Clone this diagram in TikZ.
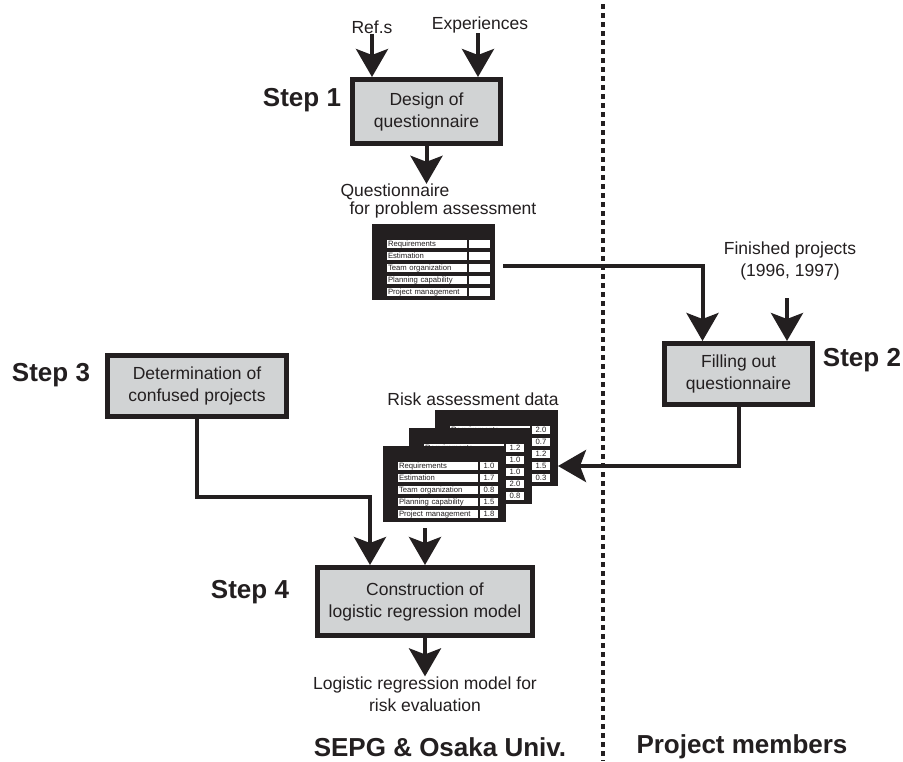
\documentclass[tikz,border=0pt]{standalone}
\usepackage{fontspec}
\setmainfont{Liberation Sans}
\usetikzlibrary{positioning,arrows.meta,calc}

\definecolor{ink}{HTML}{231F20}
\definecolor{boxgray}{HTML}{D1D3D4}

% row titles of the assessment sheets
\newcommand{\rowname}[1]{\ifcase#1\or Requirements\or Estimation\or Team organization\or Planning capability\or Project management\fi}

% one sheet: name, top left corner, width of the value column, values,
% number of title rows left visible (the rest lie under the sheet in front)
\newcommand{\datacard}[5]{%
  \node[card] (#1) at (#2) {};
  \foreach \val [count=\row] in {#4} {
    \coordinate (#1-p\row) at ($(#1.north west)+(15,12*\row+4)$);
    \ifnum\row>#5\else
      \node[cell,text width=78pt,align=left] at (#1-p\row) {\rowname{\row}};
    \fi
    \node[cell,minimum width=#3] (#1-v\row) at ($(#1-p\row)+(82,0)$) {\val};
  }
}

\begin{document}
\begin{tikzpicture}[x=1pt,y=-1pt,
    txt/.style={font=\fontsize{17.5}{22}\selectfont,text=ink,align=center,inner sep=0},
    stage/.style={txt,draw=ink,line width=5pt,fill=boxgray},
    steplabel/.style={font=\fontsize{26}{30}\selectfont\bfseries,text=ink,inner sep=0},
    arr/.style={draw=ink,line width=4pt,-{Stealth[length=28pt,width=32pt,inset=6pt]}},
    divider/.style={draw=ink,line width=4pt,dash pattern=on 5pt off 4pt},
    card/.style={fill=ink,minimum width=123pt,minimum height=76pt,inner sep=0,outer sep=0,anchor=north west},
    cell/.style={fill=white,font=\fontsize{7.7}{8}\selectfont,text=ink,inner xsep=1pt,inner ysep=0,
        minimum height=8pt,text height=5.6pt,text depth=1.6pt,outer sep=0,anchor=north west}
]
\fill[white] (0,0) rectangle (903,761);
\useasboundingbox (0,0) rectangle (903,761);

% column divider
\draw[divider] (603,4) -- (603,761);

% steps
\node[stage,minimum width=148pt,minimum height=64pt] (s1) at (426.5,111.5) {Design of\\questionnaire};
\node[stage,minimum width=148pt,minimum height=61pt] (s2) at (738.5,374) {Filling out\\questionnaire};
\node[stage,minimum width=179pt,minimum height=61pt] (s3) at (197,386) {Determination of\\confused projects};
\node[stage,minimum width=215pt,minimum height=68pt] (s4) at (425,601.5) {Construction of\\logistic regression model};

\node[steplabel] (st1) at (302,100) {Step 1};
\node[steplabel] (st2) at (862,360) {Step 2};
\node[steplabel] (st3) at (51,375) {Step 3};
\node[steplabel] (st4) at (250,592) {Step 4};

% inputs of step 1
\node[txt] (refs) at (372,27) {Ref.s};
\node[txt] (exp) at (480,25) {Experiences};
\draw[arr] (refs.south) -- (refs.south |- s1.north);
\draw[arr] ([xshift=-2pt]exp.south) -- ([xshift=-2pt]exp.south |- s1.north);

% questionnaire
\node[txt] (q1) at (395,192) {Questionnaire};
\node[txt] (q2) at (443,210) {for problem assessment};
\draw[arr] (s1.south) -- (s1.south |- q1.north);
\datacard{qcard}{372,224}{21pt}{~,~,~,~,~}{5}
\draw[arr] ($(qcard.east)+(8,4)$) -| ([xshift=-36pt]s2.north);

% finished projects
\node[txt] (fin) at (790,261) {Finished projects\\(1996, 1997)};
\draw[arr] ([xshift=-3pt]fin.south) ++(0,18) coordinate (f0) -- (f0 |- s2.north);

% risk assessment data
\node[txt] (rad) at (473,399) {Risk assessment data};
\datacard{c3}{435,410}{18pt}{2.0,0.7,1.2,1.5,0.3}{1}
\datacard{c2}{409,428}{18pt}{1.2,1.0,1.0,2.0,0.8}{1}
\datacard{c1}{383,446}{18pt}{1.0,1.7,0.8,1.5,1.8}{5}
\draw[arr] (s2.south) |- ([yshift=-18pt]c3.east);

% into step 4
\draw[arr] (s3.south) -- ++(0,78) -| ([xshift=-55pt]s4.north);
\draw[arr] (c1.south -| s4.north) ++(0,6) coordinate (c0) -- (c0 |- s4.north);

% result
\node[txt] (res) at (425,694) {Logistic regression model for\\risk evaluation};
\draw[arr] (s4.south) -- (s4.south |- res.north);

% sides
\node[steplabel] (sepg) at (440,747) {SEPG \& Osaka Univ.};
\node[steplabel] (pm) at (742,747) {Project members};

\end{tikzpicture}
\end{document}
